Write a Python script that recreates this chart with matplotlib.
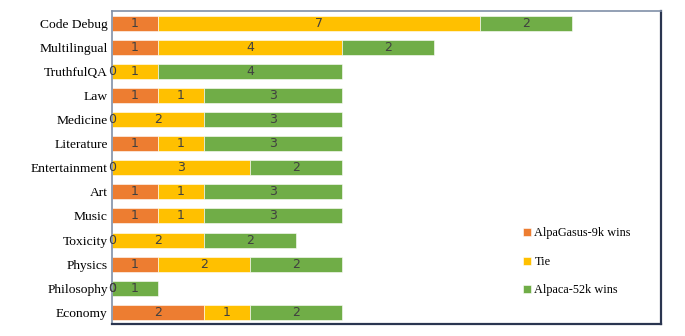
import matplotlib.pyplot as plt
import numpy as np

categories = ['Code Debug', 'Multilingual', 'TruthfulQA', 'Law', 'Medicine',
              'Literature', 'Entertainment', 'Art', 'Music', 'Toxicity',
              'Physics', 'Philosophy', 'Economy']
alpagasus_wins = [1, 1, 0, 1, 0, 1, 0, 1, 1, 0, 1, 0, 2]
tie = [7, 4, 1, 1, 2, 1, 3, 1, 1, 2, 2, 0, 1]
alpaca_wins = [2, 2, 4, 3, 3, 3, 2, 3, 3, 2, 2, 1, 2]

series = [('AlpaGasus-9k wins', alpagasus_wins, '#ED7D31'),
          ('Tie', tie, '#FFC000'),
          ('Alpaca-52k wins', alpaca_wins, '#70AD47')]

fig = plt.figure(figsize=(6.85, 3.36), dpi=100)
ax = fig.add_axes([0.1635, 0.036, 0.802, 0.931])

y = np.arange(len(categories))
left = np.zeros(len(categories))
for name, vals, color in series:
    vals = np.array(vals, dtype=float)
    ax.barh(y, vals, left=left, height=0.62, color=color, label=name,
            edgecolor='white', linewidth=0.4)
    for yi, l, v in zip(y, left, vals):
        # zero counts sit at the start of their (empty) segment
        if v == 0:
            xpos = l
        else:
            xpos = l + v / 2
        ax.text(xpos, yi, '%d' % v, ha='center', va='center',
                fontsize=9, color='#404040', family='DejaVu Sans')
    left = left + vals

ax.set_xlim(0, 11.95)
ax.set_ylim(12.48, -0.5)
ax.set_xticks([])
ax.set_yticks(y)
ax.set_yticklabels(categories, family='Liberation Serif', fontsize=9.7)
ax.tick_params(axis='y', length=0, pad=3)

for s in ['top', 'left']:
    ax.spines[s].set_color('#8090A8')
    ax.spines[s].set_linewidth(1.2)
for s in ['right', 'bottom']:
    ax.spines[s].set_color('#2A3550')
    ax.spines[s].set_linewidth(1.6)

ax.legend(loc='center left', bbox_to_anchor=(0.729, 0.198), frameon=False,
          prop={'family': 'Liberation Serif', 'size': 8.8},
          handlelength=0.6, handleheight=0.6, handletextpad=0.3,
          labelspacing=1.35)

fig.savefig('out.png', dpi=100)
